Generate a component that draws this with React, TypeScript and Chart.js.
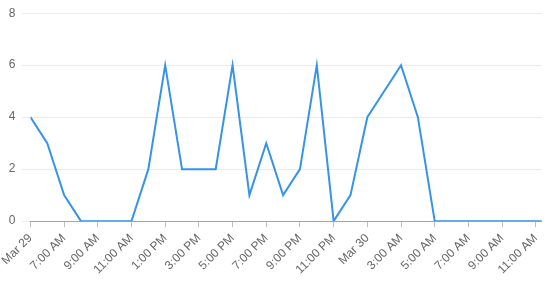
import React, { useEffect, useRef } from 'react';
import { Chart, registerables } from 'chart.js';

Chart.register(...registerables);

// Hourly readings starting Mar 29, 5:00 AM (one value per hour)
const values = [4, 3, 1, 0, 0, 0, 0, 2, 6, 2, 2, 2, 6, 1, 3, 1, 2, 6, 0, 1, 4, 5, 6, 4, 0, 0, 0, 0, 0, 0, 0, 0];
// Tick labels, one every 2 hours
const tickLabels = [
  'Mar 29', '7:00 AM', '9:00 AM', '11:00 AM', '1:00 PM', '3:00 PM', '5:00 PM', '7:00 PM',
  '9:00 PM', '11:00 PM', 'Mar 30', '3:00 AM', '5:00 AM', '7:00 AM', '9:00 AM', '11:00 AM',
];
const yMin = 0;
const yMax = 8;
const yStep = 2;
const xMax = 30.35;

export default function App() {
  const ref = useRef<HTMLCanvasElement>(null);
  useEffect(() => {
    document.body.style.margin = '0';
    const ctx = ref.current!;
    const chart = new Chart(ctx, {
      type: 'line',
      data: {
        datasets: [
          {
            data: values.map((v, i) => ({ x: i, y: v })),
            borderColor: 'rgb(54, 148, 232)',
            backgroundColor: 'rgb(54, 148, 232)',
            borderWidth: 2,
            pointRadius: 0,
            tension: 0,
            fill: false,
          },
        ],
      },
      options: {
        animation: false,
        responsive: false,
        plugins: { legend: { display: false }, tooltip: { enabled: false } },
        layout: { padding: { top: 12, right: 5, bottom: 10 } },
        scales: {
          x: {
            type: 'linear',
            min: 0,
            max: xMax,
            afterBuildTicks: (axis: any) => {
              axis.ticks = tickLabels.map((_, i) => ({ value: i * 2 }));
            },
            ticks: {
              stepSize: 2,
              minRotation: 45,
              maxRotation: 45,
              autoSkip: false,
              color: '#666',
              font: { family: "'Liberation Sans', Arial, sans-serif", size: 12 },
              padding: 4,
              callback: (v: any) => tickLabels[Math.round(Number(v) / 2)] ?? '',
            },
            grid: { drawOnChartArea: false, drawTicks: true, tickLength: 6, color: 'rgba(0,0,0,0.25)' },
            border: { display: true, color: 'rgba(0,0,0,0.3)' },
          },
          y: {
            min: yMin,
            max: yMax,
            ticks: {
              stepSize: yStep,
              color: '#666',
              font: { family: "'Liberation Sans', Arial, sans-serif", size: 12 },
              padding: 6,
            },
            grid: { color: 'rgba(0,0,0,0.08)', tickLength: 9 },
            border: { display: false },
          },
        },
      },
    });
    return () => chart.destroy();
  }, []);
  return (
    <div style={{ position: 'absolute', left: 0, top: 0, width: 550, height: 291 }}>
      <canvas ref={ref} width={550} height={291} />
    </div>
  );
}
